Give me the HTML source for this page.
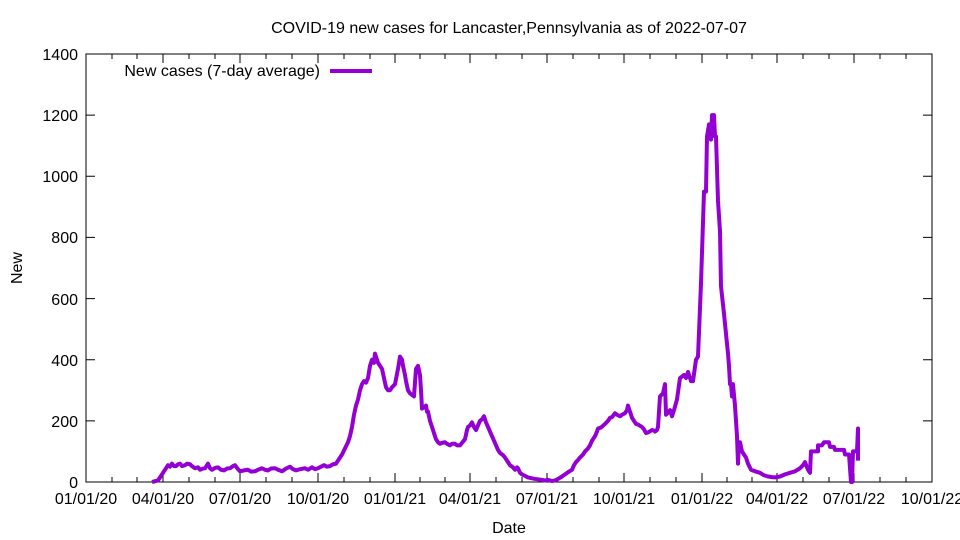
<!DOCTYPE html>
<html><head><meta charset="utf-8"><style>body{margin:0;background:#fff}svg{display:block}text{font-family:"Liberation Sans",sans-serif;font-size:16px;fill:#000}</style></head><body>
<svg width="960" height="540" viewBox="0 0 960 540">
<rect x="86" y="54" width="846" height="428" fill="none" stroke="#000" stroke-width="1"/>
<g stroke="#000" stroke-width="1">
<path d="M86 482h9M932 482h-9M86 420.9h9M932 420.9h-9M86 359.7h9M932 359.7h-9M86 298.6h9M932 298.6h-9M86 237.4h9M932 237.4h-9M86 176.3h9M932 176.3h-9M86 115.1h9M932 115.1h-9M86 54h9M932 54h-9"/>
<path d="M86 482v-9M163 482v-9M240 482v-9M318 482v-9M395 482v-9M470 482v-9M547 482v-9M624 482v-9M702 482v-9M777 482v-9M854 482v-9M932 482v-9M86 54v9M163 54v9M240 54v9M318 54v9M395 54v9M470 54v9M547 54v9M624 54v9M702 54v9M777 54v9M854 54v9"/>
<path d="M112 482v-5M137 482v-5M189 482v-5M215 482v-5M266 482v-5M292 482v-5M344 482v-5M370 482v-5M420 482v-5M445 482v-5M496 482v-5M522 482v-5M573 482v-5M599 482v-5M650 482v-5M676 482v-5M727 482v-5M752 482v-5M803 482v-5M829 482v-5M880 482v-5M906 482v-5M112 54v5M137 54v5M189 54v5M215 54v5M266 54v5M292 54v5M344 54v5M370 54v5M420 54v5M445 54v5M496 54v5M522 54v5M573 54v5M599 54v5M650 54v5M676 54v5M727 54v5M752 54v5M803 54v5M829 54v5M880 54v5M906 54v5"/>
</g>
<g text-anchor="end">
<text x="78" y="488">0</text><text x="78" y="427">200</text><text x="78" y="366">400</text><text x="78" y="305">600</text><text x="78" y="243">800</text><text x="78" y="182">1000</text><text x="78" y="121">1200</text><text x="78" y="60">1400</text>
</g>
<g text-anchor="middle">
<text x="86" y="504">01/01/20</text><text x="163" y="504">04/01/20</text><text x="240" y="504">07/01/20</text><text x="318" y="504">10/01/20</text><text x="395" y="504">01/01/21</text><text x="470" y="504">04/01/21</text><text x="547" y="504">07/01/21</text><text x="624" y="504">10/01/21</text><text x="702" y="504">01/01/22</text><text x="777" y="504">04/01/22</text><text x="854" y="504">07/01/22</text><text x="932" y="504">10/01/22</text>
<text x="509" y="533">Date</text>
<text x="509" y="33">COVID-19 new cases for Lancaster,Pennsylvania as of 2022-07-07</text>
</g>
<text x="22" y="268" text-anchor="middle" transform="rotate(-90 22 268)">New</text>
<text x="320" y="76" text-anchor="end">New cases (7-day average)</text>
<path d="M330 71H372" stroke="#9400d3" stroke-width="4"/>
<g transform="translate(0,482) scale(1,-0.305714)">
<polyline fill="none" stroke="#9400d3" stroke-width="4" vector-effect="non-scaling-stroke" stroke-linejoin="round" points="152,0 158,5 163,30 168,55 170,50 172,60 174,52 176,52 178,58 180,60 182,52 185,55 187,60 190,58 192,52 195,45 198,48 200,40 203,44 205,45 207,55 208,60 210,45 212,40 215,46 218,48 221,40 224,38 227,44 230,45 233,52 235,55 238,42 240,35 244,38 248,40 251,34 255,35 258,40 262,45 265,40 268,38 271,44 275,45 278,40 282,35 286,44 290,50 293,42 296,38 300,42 305,45 308,40 312,48 315,42 318,45 321,50 324,55 327,50 330,52 333,58 336,60 339,75 342,90 345,110 348,130 350,150 352,180 354,220 356,250 358,270 360,300 362,320 364,330 366,325 368,340 370,380 372,400 374,390 375,420 377,400 378,390 380,380 382,370 384,340 386,310 388,300 390,300 392,310 395,320 398,370 400,410 402,400 403,380 405,350 406,330 408,300 410,290 412,285 414,280 416,370 418,380 420,350 421,300 422,240 424,245 426,250 427,230 428,230 430,200 432,180 434,160 436,140 438,130 440,125 442,128 445,130 447,125 450,120 452,125 455,125 457,120 460,120 462,128 465,140 467,170 468,180 470,185 472,195 474,180 476,170 478,185 480,200 482,205 484,215 486,195 488,180 490,165 492,150 494,135 496,120 498,105 500,95 503,88 505,80 508,65 510,55 513,48 515,40 517,48 518,45 520,30 522,25 525,20 528,15 532,12 535,10 540,8 545,5 548,7 552,3 555,5 558,10 562,18 565,25 568,32 572,40 574,55 576,65 578,72 580,80 583,90 585,100 588,110 590,120 592,135 595,150 597,165 598,175 601,178 605,190 608,200 610,210 612,212 615,225 617,220 620,215 622,220 625,225 627,235 628,250 630,230 632,210 634,200 636,190 638,188 642,180 644,172 646,160 648,162 652,170 654,168 655,165 657,170 658,180 660,280 663,290 665,320 666,220 668,228 670,235 672,215 674,235 677,270 680,340 682,345 684,350 686,340 688,360 690,340 691,330 693,330 696,400 698,410 701,650 704,950 706,950 707,1130 709,1170 710,1170 711,1120 712,1200 714,1200 715,1130 716,1130 718,920 720,820 721,640 724,550 728,420 729,380 730,320 731,320 732,280 733,320 735,250 737,150 738,60 739,130 740,130 742,100 744,90 746,80 748,60 751,40 755,35 760,30 764,22 768,18 772,16 775,15 780,18 785,25 790,30 795,35 800,45 803,55 805,65 808,40 810,30 811,100 812,100 818,100 818,120 822,120 824,130 829,130 830,115 834,115 835,105 844,105 845,90 849,90 851,0 852,0 853,100 857,100 858,175 858,70"/>
</g>
</svg>
</body></html>
